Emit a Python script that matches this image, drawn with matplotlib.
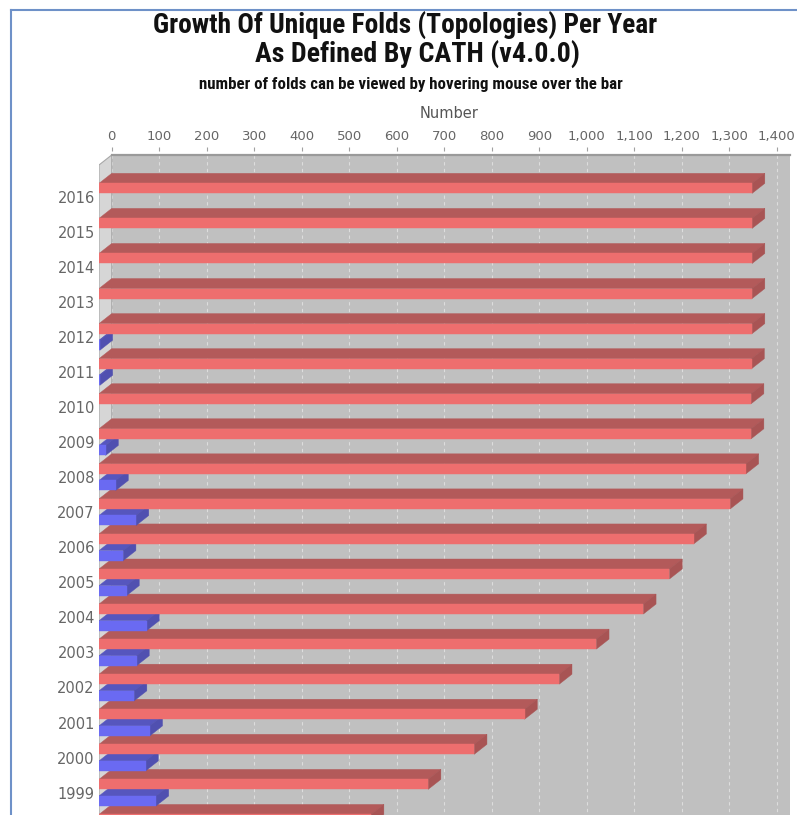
import numpy as np
import matplotlib
matplotlib.use("Agg")
import matplotlib.pyplot as plt
from matplotlib.patches import Polygon
from matplotlib.lines import Line2D
from matplotlib.ticker import FuncFormatter

# ---- data -------------------------------------------------------------
years = [2016, 2015, 2014, 2013, 2012, 2011, 2010, 2009, 2008, 2007,
         2006, 2005, 2004, 2003, 2002, 2001, 2000, 1999, 1998]
# cumulative number of unique folds (red)
total_folds = [1375, 1375, 1375, 1375, 1375, 1374, 1373, 1373, 1362, 1329,
               1252, 1201, 1146, 1047, 969, 896, 790, 693, 573]
# new folds first seen in that year (blue)
new_folds = [0, 0, 0, 0, 2, 2, 0, 14, 35, 78,
             51, 58, 100, 79, 74, 107, 98, 120, np.nan]
x_ticks = list(range(0, 1401, 100))

# ---- layout (pixels) --------------------------------------------------
W, H = 797, 815
def fx(px):
    return px / W
def fy(py):
    return 1 - py / H

AX_LEFT, AX_RIGHT, AX_TOP, AX_BOTTOM = 99, 790, 155, 900
ZERO_PX, PX_PER_UNIT = 111.7, 0.475
ROW0_PX, ROW_PX = 196.65, 35.06
DEPTH_X_PX, DEPTH_Y_PX = 12.7, 10.0
BAR_PX = 10.0

RED_FRONT, RED_TOP, RED_SIDE = "#EE6E6E", "#B35A5A", "#A85454"
BLUE_FRONT, BLUE_TOP, BLUE_SIDE = "#6A6AF2", "#5656BE", "#5050B0"

fig = plt.figure(figsize=(W / 100, H / 100), dpi=100)
fig.patch.set_facecolor("white")

ax = fig.add_axes([fx(AX_LEFT), fy(AX_BOTTOM),
                   (AX_RIGHT - AX_LEFT) / W, (AX_BOTTOM - AX_TOP) / H])
x0 = (AX_LEFT - ZERO_PX) / PX_PER_UNIT
x1 = (AX_RIGHT - ZERO_PX) / PX_PER_UNIT
y_top = (AX_TOP - ROW0_PX) / ROW_PX
y_bot = (AX_BOTTOM - ROW0_PX) / ROW_PX
ax.set_xlim(x0, x1)
ax.set_ylim(y_bot, y_top)
ax.set_facecolor("none")

DX = DEPTH_X_PX / PX_PER_UNIT
DY = DEPTH_Y_PX / ROW_PX
BAR_H = BAR_PX / ROW_PX
RED_OFF = -13.3 / ROW_PX
BLUE_OFF = 3.3 / ROW_PX

# back wall, grid and left wall
ax.add_patch(Polygon([(0, y_top), (x1, y_top), (x1, y_bot), (0, y_bot)],
                     closed=True, facecolor="#C0C0C0", edgecolor="none", zorder=0))
ax.vlines(x_ticks, y_top, y_bot, colors="#DDDDDD", linestyles=(0, (3, 3)),
          linewidth=0.8, zorder=1)
ax.add_patch(Polygon([(-DX, y_top + DY), (0, y_top), (0, y_bot), (-DX, y_bot)],
                     closed=True, facecolor="#D6D6D6", edgecolor="#A8A8A8",
                     linewidth=0.8, zorder=2))
ax.plot([0, x1], [y_top, y_top], color="#9A9A9A", lw=1.6, clip_on=False, zorder=3)


def bar3d(value, yt, front, top, side):
    """Draw one horizontal bar with its front face top at yt."""
    yb = yt + BAR_H
    ax.add_patch(Polygon([(-DX, yt), (value - DX, yt), (value, yt - DY), (0, yt - DY)],
                         closed=True, facecolor=top, edgecolor=top, lw=0.3, zorder=4))
    ax.add_patch(Polygon([(value - DX, yt), (value, yt - DY), (value, yb - DY), (value - DX, yb)],
                         closed=True, facecolor=side, edgecolor=side, lw=0.3, zorder=4))
    ax.add_patch(Polygon([(-DX, yt), (value - DX, yt), (value - DX, yb), (-DX, yb)],
                         closed=True, facecolor=front, edgecolor=front, lw=0.3, zorder=4))


for k in range(len(years) - 1, -1, -1):
    if not np.isnan(new_folds[k]) and new_folds[k] > 0:
        bar3d(new_folds[k], k + BLUE_OFF, BLUE_FRONT, BLUE_TOP, BLUE_SIDE)
    bar3d(total_folds[k], k + RED_OFF, RED_FRONT, RED_TOP, RED_SIDE)

# axes: value axis on top, years on the left
for s in ax.spines.values():
    s.set_visible(False)
ax.spines["top"].set_position(("outward", 3.0))
ax.xaxis.tick_top()
ax.set_xticks(x_ticks)
ax.xaxis.set_major_formatter(FuncFormatter(lambda v, p: f"{int(v):,}"))
ax.tick_params(axis="x", which="both", top=True, bottom=False, length=3.0,
               width=0.8, color="#A0A0A0", labelsize=9.5, labelcolor="#666666", pad=2.5)
ax.set_yticks(range(len(years) - 1))
ax.set_yticklabels([str(y) for y in years[:-1]])
ax.tick_params(axis="y", length=0, labelsize=10.5, labelcolor="#666666", pad=3)

ax.set_xlabel("Number", fontsize=10.5, color="#555555")
ax.xaxis.set_label_position("top")
ax.xaxis.set_label_coords((449 - AX_LEFT) / (AX_RIGHT - AX_LEFT),
                          1 + (AX_TOP - 113) / (AX_BOTTOM - AX_TOP))
ax.xaxis.label.set_va("center")

# titles, each fitted to its line width
title_font = ["Roboto Condensed", "Barlow Semi Condensed", "Liberation Sans Narrow", "DejaVu Sans"]
renderer = fig.canvas.get_renderer()


def fitted_text(cx, baseline, s, size, width_px, weight):
    t = fig.text(fx(cx), fy(baseline), s, ha="center", va="baseline",
                 fontsize=size, fontweight=weight, family=title_font, color="#111111")
    w = t.get_window_extent(renderer).width
    if w > 0:
        t.set_fontsize(size * width_px / w)
    return t


fitted_text(405, 33.5, "Growth Of Unique Folds (Topologies) Per Year", 19, 506, "semibold")
fitted_text(417.5, 61.5, "As Defined By CATH (v4.0.0)", 19, 325, "semibold")
fitted_text(411, 88.5, "number of folds can be viewed by hovering mouse over the bar", 11, 422, "bold")

# page frame
frame_color = "#6E91C8"
fig.add_artist(Line2D([fx(11), fx(11)], [fy(10), 0], color=frame_color, lw=1.5))
fig.add_artist(Line2D([fx(11), 1], [fy(10), fy(10)], color=frame_color, lw=1.5))

fig.savefig("out.png", dpi=100)
